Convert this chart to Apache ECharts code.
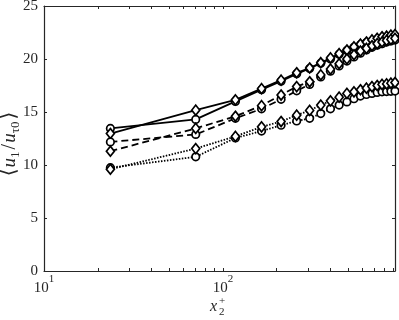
<!DOCTYPE html>
<html>
<head>
<meta charset="utf-8">
<script src="https://cdn.jsdelivr.net/npm/echarts@6/dist/echarts.min.js"></script>
<style>
	html, body { margin: 0; padding: 0; background: #fff; }
	#chart { width: 399px; height: 320px; }
</style>
</head>
<body>
<div id="chart"></div>
<script>
// x2+ positions of the profiles
const xPlus = [23.5, 70.5, 117.5, 164.5, 211.5, 258.5, 305.5, 352.5, 399.5, 446.5,
	493.5, 540.5, 587.5, 634.5, 681.5, 728.5, 775.5, 822.5, 869.5, 916.5]

const solidCircle = [13.45, 14.3, 16.0, 17.1, 17.9, 18.6, 19.1, 19.6, 20.0, 20.45,
	20.8, 21.1, 21.35, 21.55, 21.7, 21.85, 21.95, 22.05, 22.1, 22.15]
const solidDiamond = [12.97, 15.17, 16.15, 17.2, 18.0, 18.7, 19.15, 19.65, 20.1, 20.5,
	20.85, 21.15, 21.4, 21.6, 21.8, 21.95, 22.1, 22.15, 22.25, 22.3]
const dashedCircle = [12.18, 12.88, 14.4, 15.3, 16.2, 17.0, 17.6, 18.3, 18.85, 19.35,
	19.8, 20.2, 20.55, 20.85, 21.1, 21.3, 21.45, 21.6, 21.7, 21.8]
const dashedDiamond = [11.3, 13.45, 14.6, 15.6, 16.6, 17.4, 17.85, 18.5, 19.05, 19.55,
	20.0, 20.4, 20.75, 21.0, 21.25, 21.45, 21.6, 21.75, 21.85, 21.95]
const dottedCircle = [9.75, 10.77, 12.55, 13.2, 13.75, 14.15, 14.4, 14.85, 15.3, 15.65,
	15.95, 16.25, 16.5, 16.65, 16.75, 16.85, 16.9, 16.93, 16.95, 16.97]
const dottedDiamond = [9.6, 11.55, 12.7, 13.6, 14.1, 14.7, 15.15, 15.65, 16.05, 16.4,
	16.75, 16.9, 17.1, 17.25, 17.4, 17.5, 17.6, 17.65, 17.72, 17.78]

const xMin = 10
const xMax = 916.5
const yTicks = [0, 5, 10, 15, 20, 25]
// log tick marks: 10,20..90,100,200..900
const xTickValues = [10, 20, 30, 40, 50, 60, 70, 80, 90, 100, 200, 300, 400, 500, 600, 700, 800, 900]

const axisColor = '#262626'
const font = "'Liberation Serif', 'DejaVu Serif', serif"

let chart = echarts.init(document.getElementById('chart'))

function pairs(ys) {
	return xPlus.map((x, i) => [x, ys[i]])
}

function makeSeries(name, ys, dash, symbol) {
	return {
		name: name,
		type: 'line',
		xAxisIndex: 0,
		yAxisIndex: 0,
		data: pairs(ys),
		symbol: symbol,
		symbolSize: symbol === 'diamond' ? [8, 10] : 7.5,
		showAllSymbol: true,
		lineStyle: { color: '#000', width: 1.8, type: dash },
		itemStyle: { color: '#fff', borderColor: '#000', borderWidth: 1.7 }
	}
}

const tickAxis = (pos, showLine) => ({
	type: 'value',
	position: pos,
	min: Math.log10(xMin),
	max: Math.log10(xMax),
	axisLine: { show: showLine, onZero: false, lineStyle: { color: axisColor, width: 1.2 } },
	axisTick: {
		show: true,
		inside: true,
		length: 3,
		customValues: xTickValues.map(v => Math.log10(v)),
		lineStyle: { color: axisColor }
	},
	axisLabel: { show: false },
	splitLine: { show: false }
})

let option = {
	animation: false,
	backgroundColor: '#fff',
	grid: { left: 44, right: 4, top: 6, bottom: 49, containLabel: false, outerBoundsMode: 'none' },
	xAxis: [
		{
			type: 'log',
			logBase: 10,
			min: xMin,
			max: xMax,
			position: 'bottom',
			axisLine: { show: true, onZero: false, lineStyle: { color: axisColor, width: 1.2 } },
			axisTick: { show: false },
			splitLine: { show: false },
			axisLabel: {
				margin: 3,
				showMaxLabel: false,
				formatter: v => {
					let e = Math.log10(v)
					if (Math.abs(e - Math.round(e)) > 1e-6) return ''
					return '{b|10}{s|' + Math.round(e) + '}'
				},
				rich: {
					b: { fontFamily: font, fontSize: 15, color: axisColor, lineHeight: 22, verticalAlign: 'bottom' },
					s: { fontFamily: font, fontSize: 11, color: axisColor, lineHeight: 22, verticalAlign: 'top' }
				}
			}
		},
		tickAxis('bottom', false),
		tickAxis('top', true)
	],
	yAxis: [
		{
			type: 'value',
			min: 0,
			max: 25,
			interval: 5,
			position: 'left',
			axisLine: { show: true, lineStyle: { color: axisColor, width: 1.2 } },
			axisTick: { show: true, inside: true, length: 3, lineStyle: { color: axisColor } },
			splitLine: { show: false },
			axisLabel: {
				margin: 6,
				fontFamily: font,
				fontSize: 15,
				color: axisColor,
				formatter: v => yTicks.includes(v) ? String(v) : ''
			}
		},
		{
			type: 'value',
			min: 0,
			max: 25,
			interval: 5,
			position: 'right',
			axisLine: { show: true, lineStyle: { color: axisColor, width: 1.2 } },
			axisTick: { show: true, inside: true, length: 3, lineStyle: { color: axisColor } },
			axisLabel: { show: false },
			splitLine: { show: false }
		}
	],
	graphic: [
		{
			// y axis title <u1/u_tau0>
			type: 'text',
			x: 10,
			y: 144,
			rotation: Math.PI / 2,
			style: {
				text: '{a|⟨}{i|u}{s|1}{a|/}{i|u}{s|τ0}{a|⟩}',
				align: 'center',
				verticalAlign: 'middle',
				rich: {
					a: { fontFamily: font, fontSize: 20, fill: axisColor, lineHeight: 24, verticalAlign: 'middle', padding: [0, 1] },
					i: { fontFamily: font, fontSize: 19, fontStyle: 'italic', fill: axisColor, lineHeight: 24, verticalAlign: 'middle' },
					s: { fontFamily: font, fontSize: 13, fill: axisColor, lineHeight: 24, verticalAlign: 'bottom', padding: [0, 1, 0, 0] }
				}
			}
		},
		{
			type: 'text',
			left: 210,
			top: 299,
			style: { text: 'x', font: 'italic 16px ' + font, fill: axisColor }
		},
		{
			type: 'text',
			left: 219,
			top: 296,
			style: { text: '+', font: '11px ' + font, fill: axisColor }
		},
		{
			type: 'text',
			left: 219,
			top: 307,
			style: { text: '2', font: '11px ' + font, fill: axisColor }
		}
	],
	series: [
		makeSeries('solid circle', solidCircle, 'solid', 'circle'),
		makeSeries('solid diamond', solidDiamond, 'solid', 'diamond'),
		makeSeries('dashed circle', dashedCircle, [7, 4], 'circle'),
		makeSeries('dashed diamond', dashedDiamond, [7, 4], 'diamond'),
		makeSeries('dotted circle', dottedCircle, [1.5, 1.5], 'circle'),
		makeSeries('dotted diamond', dottedDiamond, [1.5, 1.5], 'diamond')
	]
}

if (option && typeof option === 'object') {
	chart.setOption(option, true)
}
</script>
</body>
</html>
